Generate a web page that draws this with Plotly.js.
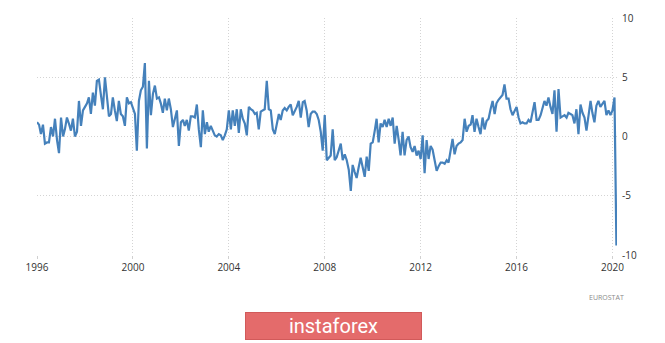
<!DOCTYPE html>
<html>
<head>
<meta charset="utf-8">
<script src="https://cdn.plot.ly/plotly-3.0.1.min.js"></script>
<style>
  html, body { margin: 0; padding: 0; background: #ffffff; }
  #chart { width: 665px; height: 343px; }
</style>
</head>
<body>
<div id="chart"></div>
<script>
// Euro area retail trade, % change year on year (monthly, Jan 1996 - Mar 2020)
const startYear = 1996;
const sales1996to1999 = [
  1.2, 1.0, 0.2, 1.0, -0.6, -0.5, -0.5, 0.8, 0.0, 1.5, -0.3, -1.4,
  1.6, 0.0, 0.6, 1.6, 1.1, 0.5, 1.5, 0.0, 0.4, 3.0, 0.9, 2.2,
  2.5, 2.8, 3.3, 1.9, 3.7, 2.6, 4.7, 4.8, 3.5, 2.3, 5.0, 3.2,
  1.7, 1.9, 3.3, 2.2, 1.3, 3.0, 1.9, 1.7, 0.9, 3.3, 2.8, 2.9
];
const sales2000to2003 = [
  2.3, 1.9, -1.2, 3.0, 3.9, 4.2, 6.2, -1.0, 4.7, 1.8, 3.6, 4.3,
  3.2, 3.3, 2.8, 2.0, 3.2, 2.2, 3.2, 2.3, 0.8, 1.5, 2.2, -0.8,
  1.2, 1.4, 0.9, 1.4, 0.5, 1.7, 1.7, 1.6, 2.7, 0.6, -0.9, 2.2,
  0.2, 1.2, 0.4, 0.9, 0.5, 0.1, 0.0, 0.2, 0.1, -0.3, 0.1, 0.6
];
const sales2004to2007 = [
  2.2, 0.6, 2.2, 0.9, 2.3, 0.3, 2.3, 1.5, 1.1, 0.1, 2.5, 2.3,
  2.2, 1.9, 2.0, 0.6, 2.1, 2.2, 2.3, 4.7, 2.3, 2.2, 0.6, 0.2,
  1.2, 1.9, 1.4, 2.2, 2.4, 2.2, 2.5, 2.7, 1.8, 2.1, 2.5, 3.0,
  1.6, 2.9, 3.0, 2.2, 0.8, 1.9, 2.1, 2.1, 1.9, 1.4, 0.4, -1.2
];
const sales2008to2011 = [
  1.8, -2.0, -1.8, -1.6, 0.6, -2.0, -1.75, -1.2, -0.6, -2.0, -1.5, -2.0,
  -2.8, -4.6, -2.4, -3.0, -3.5, -2.6, -1.8, -2.6, -3.4, -1.7, -2.9, -0.6,
  -0.5, 0.5, 1.5, -0.5, 1.1, 0.8, 1.4, 0.8, 1.5, 0.9, 1.6, -0.6,
  0.9, -0.3, -1.6, 0.4, -1.6, -0.3, 0.0, -0.9, -1.3, -0.8, -1.6, -1.2
];
const sales2012to2015 = [
  -1.9, 0.1, -3.1, -0.3, -1.9, -0.8, -1.1, -2.0, -2.9, -2.5, -2.2, -2.2,
  -2.3, -2.0, -2.2, -1.2, -0.2, -1.5, -0.8, -0.6, -0.5, -0.3, 1.5, 0.4,
  0.9, 1.0, 1.8, 0.4, 1.5, 0.8, 0.2, 1.6, 0.6, 1.3, 1.5, 2.3,
  3.0, 1.9, 2.8, 3.1, 3.3, 3.5, 4.4, 3.2, 3.2, 2.3, 1.8, 2.2
];
const sales2016to2020 = [
  2.5, 1.6, 1.1, 1.2, 1.1, 1.1, 1.4, 1.2, 2.0, 2.9, 1.4, 1.4,
  1.8, 2.4, 3.0, 2.6, 3.3, 2.5, 1.9, 3.9, 0.4, 4.0, 1.6, 1.7,
  1.8, 1.6, 2.0, 1.9, 1.8, 1.1, 2.3, 0.2, 2.7, 2.0, 1.6, 0.5,
  2.0, 3.0, 2.0, 1.2, 2.6, 3.0, 2.5, 2.8, 3.0, 1.8, 2.2, 1.8,
  2.2, 3.3, -9.2
];
const xTickYears = ['1996', '2000', '2004', '2008', '2012', '2016', '2020'];
const yTickValues = [-10, -5, 0, 5, 10];
const yTickLabels = ['-10', '-5', '0', '5', '10'];
const sourceLabel = 'EUROSTAT';
const logoLabel = 'instaforex';

const values = [].concat(sales1996to1999, sales2000to2003, sales2004to2007,
  sales2008to2011, sales2012to2015, sales2016to2020);
const dates = values.map((v, i) => {
  const y = startYear + Math.floor(i / 12);
  const m = (i % 12) + 1;
  return y + '-' + (m < 10 ? '0' + m : m) + '-01';
});

const trace = {
  x: dates,
  y: values,
  type: 'scatter',
  mode: 'lines',
  line: { color: '#4581bb', width: 2.2, shape: 'linear' },
  hoverinfo: 'skip'
};

const gridStyle = {
  showgrid: true,
  gridcolor: '#d4d4d4',
  griddash: '1px,2px',
  gridwidth: 1,
  zeroline: false,
  showline: false,
  fixedrange: true
};

const layout = {
  width: 665,
  height: 343,
  margin: { l: 37, r: 48, t: 18, b: 88, pad: 0 },
  paper_bgcolor: '#ffffff',
  plot_bgcolor: '#ffffff',
  showlegend: false,
  font: { family: 'Open Sans, sans-serif', size: 10, color: '#333333' },
  xaxis: Object.assign({
    type: 'date',
    range: ['1996-01-01', '2020-03-10'],
    tickvals: xTickYears.map(y => y + '-01-01'),
    ticktext: xTickYears,
    ticks: 'outside',
    ticklen: 3,
    tickcolor: '#d0d0d0',
    tickfont: { family: 'Open Sans, sans-serif', size: 10, color: '#333333' }
  }, gridStyle),
  yaxis: Object.assign({
    side: 'right',
    range: [-10, 10],
    tickvals: yTickValues,
    ticktext: yTickLabels,
    ticks: '',
    ticklabelstandoff: 4,
    tickfont: { family: 'Open Sans, sans-serif', size: 10, color: '#333333' }
  }, gridStyle),
  annotations: [
    {
      xref: 'paper', yref: 'paper',
      x: 1.015, y: -0.18,
      xanchor: 'right', yanchor: 'middle',
      text: sourceLabel,
      showarrow: false,
      font: { family: 'Open Sans, sans-serif', size: 7, color: '#8a8a8a' }
    },
    {
      xref: 'paper', yref: 'paper',
      x: 0.512, y: -0.30,
      xanchor: 'center', yanchor: 'middle',
      text: logoLabel,
      showarrow: false,
      width: 175,
      height: 26,
      bgcolor: '#e46b6b',
      bordercolor: '#d15a5a',
      borderwidth: 1,
      borderpad: 0,
      font: { family: 'Roboto, sans-serif', size: 20, color: '#ffffff' }
    }
  ]
};

Plotly.newPlot('chart', [trace], layout, { displayModeBar: false, staticPlot: true });
</script>
</body>
</html>
